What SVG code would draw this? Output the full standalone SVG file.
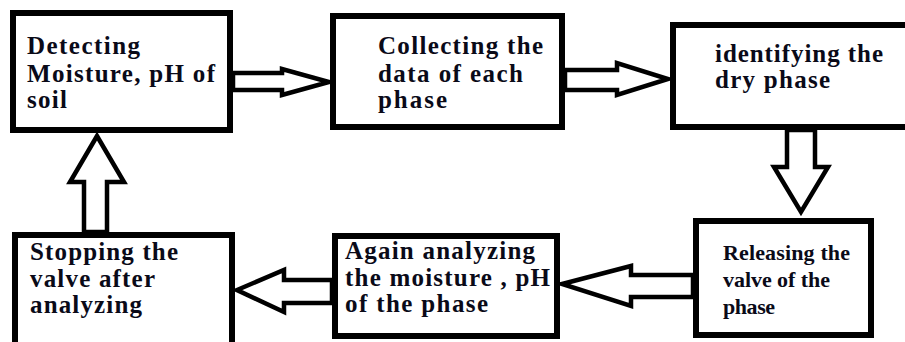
<svg xmlns="http://www.w3.org/2000/svg" width="905" height="342" viewBox="0 0 905 342">
<style>
.box{fill:#fff;stroke:#000;stroke-width:6}
.arr{fill:#fff;stroke:#000;stroke-width:4.5;stroke-linejoin:miter}
</style>
<rect width="905" height="342" fill="#fff"/>
<g id="connectors">
<polygon class="arr" points="233,73 282,73 282,69 329,82 282,95 282,90 233,90"/>
<polygon class="arr" points="565,70 617,70 617,63 668,79 617,95 617,90 565,90"/>
<polygon class="arr" points="787,130 787,167 774,167 801,212 828,167 815,167 815,130"/>
<polygon class="arr" points="693,275 631,275 631,266 562,284 631,306 631,297 693,297"/>
<polygon class="arr" points="332,280 284,280 284,270 237,290 284,312 284,303 332,303"/>
<polygon class="arr" points="84,232 84,182 70,182 97,136 124,182 107,182 107,232"/>
</g>
<g id="n1">
<rect class="box" x="13" y="13" width="217" height="117"/>
<text font-family="Liberation Serif" font-weight="bold" font-size="25" fill="#0a0a18"><tspan x="27" y="54" textLength="113">Detecting</tspan><tspan x="27" y="81.5" textLength="188">Moisture, pH of</tspan><tspan x="27" y="108" textLength="40">soil</tspan></text>
</g>
<g id="n2">
<rect class="box" x="333" y="16" width="229" height="111"/>
<text font-family="Liberation Serif" font-weight="bold" font-size="25" fill="#0a0a18"><tspan x="378" y="54" textLength="165">Collecting the</tspan><tspan x="378" y="82" textLength="145">data of each</tspan><tspan x="378" y="108" textLength="69">phase</tspan></text>
</g>
<g id="n3">
<rect class="box" x="673" y="25" width="240" height="102"/>
<text font-family="Liberation Serif" font-weight="bold" font-size="25" fill="#0a0a18"><tspan x="715" y="62" textLength="168">identifying the</tspan><tspan x="715" y="88" textLength="115">dry phase</tspan></text>
</g>
<g id="n4">
<rect class="box" x="696" y="221" width="175" height="114"/>
<text font-family="Liberation Serif" font-weight="bold" font-size="22" fill="#0a0a18"><tspan x="723" y="260" textLength="127">Releasing the</tspan><tspan x="723" y="287" textLength="107">valve of the</tspan><tspan x="723" y="314" textLength="52">phase</tspan></text>
</g>
<g id="n5">
<rect class="box" x="335" y="236" width="222" height="100"/>
<text font-family="Liberation Serif" font-weight="bold" font-size="25" fill="#0a0a18"><tspan x="345" y="259" textLength="190">Again analyzing</tspan><tspan x="345" y="286" textLength="205">the moisture , pH</tspan><tspan x="345" y="312" textLength="143">of the phase</tspan></text>
</g>
<g id="n6">
<rect class="box" x="15" y="235" width="217" height="115"/>
<text font-family="Liberation Serif" font-weight="bold" font-size="25" fill="#0a0a18"><tspan x="30" y="260" textLength="148">Stopping the</tspan><tspan x="30" y="287" textLength="125">valve after</tspan><tspan x="30" y="313" textLength="112">analyzing</tspan></text>
</g>
</svg>
